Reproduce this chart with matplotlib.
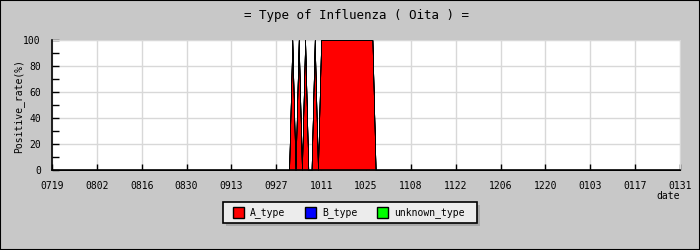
import numpy as np
import matplotlib
matplotlib.use('Agg')
import matplotlib.pyplot as plt
from matplotlib.patches import Rectangle

# daily series, day 0 = 0719, day 196 = 0131
n_days = 197
tick_labels = ['0719', '0802', '0816', '0830', '0913', '0927', '1011',
               '1025', '1108', '1122', '1206', '1220', '0103', '0117', '0131']
a_days = [75, 77, 79, 82, 84, 85, 86, 87, 88, 89, 90, 91, 92, 93, 94, 95,
          96, 97, 98, 99, 100]
a_vals = [100, 100, 100, 100, 100, 100, 100, 100, 100, 100, 100, 100, 100,
          100, 100, 100, 100, 100, 100, 100, 100]
b_days = []
b_vals = []
u_days = []
u_vals = []

series = [('A_type', a_days, a_vals, '#ff0000'),
          ('B_type', b_days, b_vals, '#0000ff'),
          ('unknown_type', u_days, u_vals, '#00ff00')]

plt.rcParams['font.family'] = ['DejaVu Sans Mono']
BG = '#c8c8c8'
W, H = 700, 250

fig = plt.figure(figsize=(7, 2.5), dpi=100, facecolor=BG)
fig.patches.append(Rectangle((0, 0), 1, 1, transform=fig.transFigure,
                             fill=False, edgecolor='black', lw=1.5, zorder=10))

ax = fig.add_axes([52 / W, 80 / H, 628 / W, 130 / H])
ax.set_facecolor('white')

x = np.arange(n_days)
base = np.zeros(n_days)
for name, days, vals, col in series:
    y = np.zeros(n_days)
    y[days] = vals
    ax.fill_between(x, base, base + y, facecolor=col, edgecolor='black',
                    lw=0.4, zorder=3)
    base = base + y

ax.set_xlim(0, n_days - 1)
ax.set_ylim(0, 100)
ax.set_xticks(np.arange(0, n_days, 14))
ax.set_xticklabels(tick_labels, fontsize=7)
ax.set_yticks(np.arange(0, 101, 20))
ax.set_yticks(np.arange(0, 101, 10), minor=True)
ax.tick_params(axis='y', labelsize=7, direction='in', length=5, width=1, pad=8)
ax.tick_params(axis='y', which='minor', direction='in', length=5, width=1)
ax.tick_params(axis='x', direction='in', length=4, width=1, pad=8)
ax.grid(True, color='#d8d8d8', lw=1, zorder=0)
ax.set_axisbelow(True)
for s in ['top', 'right']:
    ax.spines[s].set_color('#d8d8d8')
for s in ['left', 'bottom']:
    ax.spines[s].set_color('black')
    ax.spines[s].set_linewidth(1.2)
    ax.spines[s].set_zorder(5)

fig.text(19 / W, 1 - 106 / H, 'Positive_rate(%)', fontsize=7, rotation=90,
         ha='center', va='center')
fig.text(680 / W, 1 - 196 / H, 'date', fontsize=7, ha='right', va='center')
fig.text(357 / W, 1 - 15 / H, '= Type of Influenza ( Oita ) =',
         fontsize=9, ha='center', va='center')

# legend box with shadow
lx0, ly0, lx1, ly1 = 223, 202, 477, 223
fig.patches.append(Rectangle(((lx0 + 3) / W, 1 - (ly1 + 3) / H),
                             (lx1 - lx0) / W, (ly1 - ly0) / H,
                             transform=fig.transFigure, facecolor='#a8a8a8',
                             edgecolor='none', zorder=2))
fig.patches.append(Rectangle((lx0 / W, 1 - ly1 / H), (lx1 - lx0) / W,
                             (ly1 - ly0) / H, transform=fig.transFigure,
                             facecolor='#ececec', edgecolor='black', lw=1.2,
                             zorder=3))
for (name, _, _, col), px in zip(series, [233, 305, 377]):
    fig.patches.append(Rectangle((px / W, 1 - 218 / H), 11 / W, 11 / H,
                                 transform=fig.transFigure, facecolor=col,
                                 edgecolor='black', lw=1, zorder=4))
    fig.text((px + 17) / W, 1 - 212.5 / H, name, fontsize=7, ha='left',
             va='center', zorder=5)

fig.savefig('out.png', dpi=100, facecolor=BG)
